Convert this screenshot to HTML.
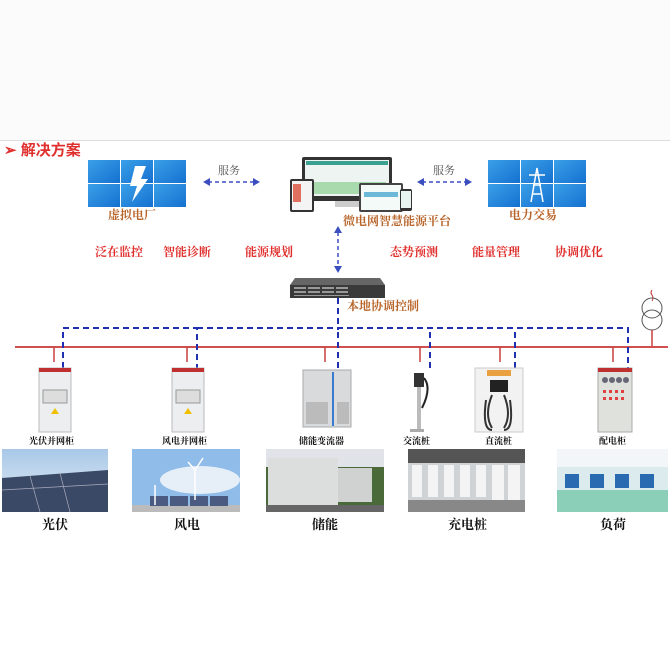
<!DOCTYPE html>
<html><head><meta charset="utf-8"><style>
body{margin:0;width:670px;height:668px;background:#fbfbfb;position:relative;overflow:hidden;font-family:"Liberation Serif","Noto Serif CJK SC",serif}
.a{position:absolute}
.t{position:absolute;white-space:nowrap;font-weight:bold}
.red{color:#e0302e;font-size:12px}
.brn{color:#b8652a;font-size:12px}
.blk{color:#111;font-size:9px}
.big{color:#111;font-size:13px}
</style></head><body>
<div class="a" style="left:0;top:140px;width:670px;height:528px;background:#fff;border-top:1px solid #ddd"></div>
<div class="t" style="left:4px;top:139px;color:#e0302e;font-size:15px;font-family:'Liberation Sans','Noto Sans CJK SC',sans-serif">➢ 解决方案</div>

<svg class="a" style="left:0;top:0" width="670" height="668">
<defs><linearGradient id="bl" x1="0" y1="0" x2="1" y2="1"><stop offset="0" stop-color="#3aa0e8"/><stop offset="1" stop-color="#1570d0"/></linearGradient>
<linearGradient id="sky" x1="0" y1="0" x2="0" y2="1"><stop offset="0" stop-color="#a8c8e8"/><stop offset="1" stop-color="#e8eef4"/></linearGradient></defs>
<!-- left grid -->
<g fill="url(#bl)"><rect x="88" y="160" width="32" height="23"/><rect x="121" y="160" width="32" height="23"/><rect x="154" y="160" width="32" height="23"/><rect x="88" y="184" width="32" height="23"/><rect x="121" y="184" width="32" height="23"/><rect x="154" y="184" width="32" height="23"/>
<rect x="488" y="160" width="32" height="23"/><rect x="521" y="160" width="32" height="23"/><rect x="554" y="160" width="32" height="23"/><rect x="488" y="184" width="32" height="23"/><rect x="521" y="184" width="32" height="23"/><rect x="554" y="184" width="32" height="23"/></g>
<polygon points="135,166 146,166 141,179 148,179 132,202 137,186 130,186" fill="#fff"/>
<g stroke="#fff" stroke-width="1.5" fill="none"><path d="M531 202 L537 168 L543 202 M533 185 L541 185 M529 175 L545 175 M533 194 L541 194"/></g>
<!-- arrows -->
<g stroke="#3a4ec0" stroke-width="1.5" stroke-dasharray="4,3"><line x1="208" y1="182" x2="255" y2="182"/><line x1="422" y1="182" x2="467" y2="182"/><line x1="338" y1="232" x2="338" y2="268"/></g>
<g fill="#3a4ec0"><polygon points="203,182 210,178 210,186"/><polygon points="260,182 253,178 253,186"/><polygon points="417,182 424,178 424,186"/><polygon points="472,182 465,178 465,186"/><polygon points="338,226 334,233 342,233"/><polygon points="338,273 334,266 342,266"/></g>
<!-- platform devices -->
<rect x="302" y="157" width="90" height="44" rx="2" fill="#333"/><rect x="305" y="160" width="84" height="36" fill="#eef4f2"/>
<rect x="306" y="161" width="82" height="4" fill="#3aa090"/>
<rect x="308" y="182" width="78" height="12" fill="#8ccf90" opacity=".7"/>
<rect x="335" y="201" width="24" height="6" fill="#ccc"/>
<rect x="290" y="179" width="24" height="33" rx="2" fill="#333"/><rect x="292" y="181" width="20" height="29" fill="#f4f4f4"/><rect x="293" y="184" width="8" height="18" fill="#e07060"/>
<rect x="359" y="183" width="44" height="29" rx="2" fill="#444"/><rect x="361" y="185" width="40" height="25" fill="#f4faf8"/><rect x="364" y="192" width="34" height="5" fill="#6bb8d8"/>
<rect x="400" y="189" width="12" height="22" rx="2" fill="#333"/><rect x="401" y="191" width="10" height="17" fill="#e8f4f0"/>
<!-- controller -->
<polygon points="295,278 380,278 385,285 290,285" fill="#666"/>
<rect x="290" y="285" width="95" height="13" fill="#3a3a3a"/>
<g fill="#999"><rect x="294" y="287" width="12" height="2"/><rect x="308" y="287" width="12" height="2"/><rect x="322" y="287" width="12" height="2"/><rect x="336" y="287" width="12" height="2"/><rect x="294" y="291" width="12" height="2"/><rect x="308" y="291" width="12" height="2"/><rect x="322" y="291" width="12" height="2"/><rect x="336" y="291" width="12" height="2"/><rect x="294" y="295" width="55" height="1"/></g>
<line x1="338" y1="298" x2="338" y2="330" stroke="#2030b0" stroke-width="2" stroke-dasharray="6,4"/>
<!-- transformer -->
<path d="M652 290 q-2 3 0 5 q2 3 0 6" stroke="#c03030" fill="none"/>
<circle cx="652" cy="308" r="10" fill="none" stroke="#555"/><circle cx="652" cy="320" r="10" fill="none" stroke="#555"/>
<line x1="652" y1="330" x2="652" y2="347" stroke="#c84040" stroke-width="1.5"/>
<!-- bus -->
<line x1="15" y1="347" x2="668" y2="347" stroke="#d05050" stroke-width="2"/>
<g stroke="#2030b0" stroke-width="2" stroke-dasharray="6,4" fill="none">
<path d="M63 368 V328 H197 V368"/><path d="M338 368 V328"/><path d="M197 328 H628 V368"/><path d="M430 368 V328"/><path d="M515 368 V328"/></g>
<g stroke="#c84040" stroke-width="1.5"><line x1="54" y1="347" x2="54" y2="362"/><line x1="187" y1="347" x2="187" y2="362"/><line x1="325" y1="347" x2="325" y2="362"/><line x1="420" y1="347" x2="420" y2="362"/><line x1="500" y1="347" x2="500" y2="362"/><line x1="613" y1="347" x2="613" y2="362"/></g>
<!-- cabinets -->
<g><rect x="39" y="368" width="32" height="64" fill="#eceef0" stroke="#bbb"/><rect x="39" y="368" width="32" height="4" fill="#c03030"/><rect x="43" y="390" width="24" height="13" fill="#ddd" stroke="#999"/><polygon points="55,408 51,414 59,414" fill="#f0c000"/>
<rect x="172" y="368" width="32" height="64" fill="#eceef0" stroke="#bbb"/><rect x="172" y="368" width="32" height="4" fill="#c03030"/><rect x="176" y="390" width="24" height="13" fill="#ddd" stroke="#999"/><polygon points="188,408 184,414 192,414" fill="#f0c000"/>
<rect x="303" y="370" width="48" height="57" fill="#d8dadc" stroke="#aaa"/><rect x="332" y="372" width="2" height="54" fill="#3a7ad0"/><rect x="306" y="402" width="22" height="22" fill="#bbb"/><rect x="337" y="402" width="12" height="22" fill="#bbb"/>
<rect x="414" y="373" width="10" height="14" fill="#333"/><rect x="417" y="387" width="4" height="42" fill="#bbb"/><path d="M424 378 q8 10 -2 30" stroke="#222" stroke-width="2" fill="none"/><rect x="410" y="429" width="14" height="3" fill="#aaa"/>
<rect x="475" y="368" width="48" height="64" fill="#f2f2f2" stroke="#ccc"/><rect x="487" y="370" width="24" height="6" fill="#e8a040"/><rect x="490" y="380" width="18" height="12" fill="#222"/><path d="M486 400 q-4 30 6 30 M510 400 q4 30 -6 30 M492 395 q-8 20 0 33 M504 395 q8 20 0 33" stroke="#333" stroke-width="2" fill="none"/>
<rect x="598" y="368" width="34" height="64" fill="#dfe2dc" stroke="#aaa"/><rect x="598" y="368" width="34" height="4" fill="#c03030"/>
<g fill="#e04040"><rect x="603" y="390" width="3" height="3"/><rect x="609" y="390" width="3" height="3"/><rect x="615" y="390" width="3" height="3"/><rect x="621" y="390" width="3" height="3"/><rect x="603" y="397" width="3" height="3"/><rect x="609" y="397" width="3" height="3"/><rect x="615" y="397" width="3" height="3"/><rect x="621" y="397" width="3" height="3"/></g>
<g fill="#667"><circle cx="605" cy="380" r="3"/><circle cx="612" cy="380" r="3"/><circle cx="619" cy="380" r="3"/><circle cx="626" cy="380" r="3"/></g></g>
<!-- photos -->
<rect x="2" y="449" width="106" height="63" fill="url(#sky)"/><polygon points="2,478 108,470 108,512 2,512" fill="#3a4a66"/><g stroke="#aab" stroke-width=".7"><line x1="2" y1="490" x2="108" y2="484"/><line x1="30" y1="476" x2="40" y2="512"/><line x1="60" y1="473" x2="70" y2="512"/></g>
<rect x="132" y="449" width="108" height="63" fill="#8fbce8"/><ellipse cx="200" cy="480" rx="40" ry="14" fill="#e6eef8"/><rect x="132" y="505" width="108" height="7" fill="#bbb"/><g fill="#4a5a80"><rect x="150" y="496" width="18" height="10"/><rect x="170" y="496" width="18" height="10"/><rect x="190" y="496" width="18" height="10"/><rect x="210" y="496" width="18" height="10"/></g><g stroke="#fff" stroke-width="1.5"><line x1="195" y1="470" x2="195" y2="500"/><line x1="155" y1="485" x2="155" y2="505"/><line x1="195" y1="470" x2="203" y2="458"/><line x1="195" y1="470" x2="188" y2="462"/></g>
<rect x="266" y="449" width="118" height="63" fill="#4a6a3a"/><rect x="266" y="449" width="118" height="18" fill="#e0e4e8"/><rect x="268" y="458" width="70" height="50" fill="#dcdedd"/><rect x="338" y="468" width="34" height="34" fill="#cfd2d0"/><rect x="266" y="505" width="118" height="7" fill="#666"/>
<rect x="408" y="449" width="117" height="63" fill="#cfd3d6"/><rect x="408" y="449" width="117" height="14" fill="#555"/><g fill="#f4f4f4"><rect x="412" y="465" width="10" height="32"/><rect x="428" y="465" width="10" height="32"/><rect x="444" y="465" width="10" height="32"/><rect x="460" y="465" width="10" height="32"/><rect x="476" y="465" width="10" height="32"/><rect x="492" y="465" width="12" height="35"/><rect x="508" y="465" width="12" height="35"/></g><rect x="408" y="500" width="117" height="12" fill="#888"/>
<rect x="557" y="449" width="111" height="63" fill="#dcebee"/><rect x="557" y="449" width="111" height="18" fill="#f2f6f8"/><rect x="557" y="490" width="111" height="22" fill="#8ccfb8"/><g fill="#2a6ab0"><rect x="565" y="474" width="14" height="14"/><rect x="590" y="474" width="14" height="14"/><rect x="615" y="474" width="14" height="14"/><rect x="640" y="474" width="14" height="14"/></g>
</svg>

<div class="t brn" style="left:108px;top:206px">虚拟电厂</div>
<div class="t brn" style="left:509px;top:206px">电力交易</div>
<div class="t brn" style="left:343px;top:212px">微电网智慧能源平台</div>
<div class="t" style="left:218px;top:162px;font-size:11px;color:#555;font-weight:normal">服务</div>
<div class="t" style="left:433px;top:162px;font-size:11px;color:#555;font-weight:normal">服务</div>
<div class="t red" style="left:95px;top:243px">泛在监控</div>
<div class="t red" style="left:163px;top:243px">智能诊断</div>
<div class="t red" style="left:245px;top:243px">能源规划</div>
<div class="t red" style="left:390px;top:243px">态势预测</div>
<div class="t red" style="left:472px;top:243px">能量管理</div>
<div class="t red" style="left:555px;top:243px">协调优化</div>
<div class="t brn" style="left:347px;top:297px">本地协调控制</div>
<div class="t blk" style="left:29px;top:434px">光伏并网柜</div>
<div class="t blk" style="left:162px;top:434px">风电并网柜</div>
<div class="t blk" style="left:299px;top:434px">储能变流器</div>
<div class="t blk" style="left:403px;top:434px">交流桩</div>
<div class="t blk" style="left:485px;top:434px">直流桩</div>
<div class="t blk" style="left:599px;top:434px">配电柜</div>
<div class="t big" style="left:42px;top:514px">光伏</div>
<div class="t big" style="left:174px;top:514px">风电</div>
<div class="t big" style="left:312px;top:514px">储能</div>
<div class="t big" style="left:448px;top:514px">充电桩</div>
<div class="t big" style="left:600px;top:514px">负荷</div>
</body></html>
